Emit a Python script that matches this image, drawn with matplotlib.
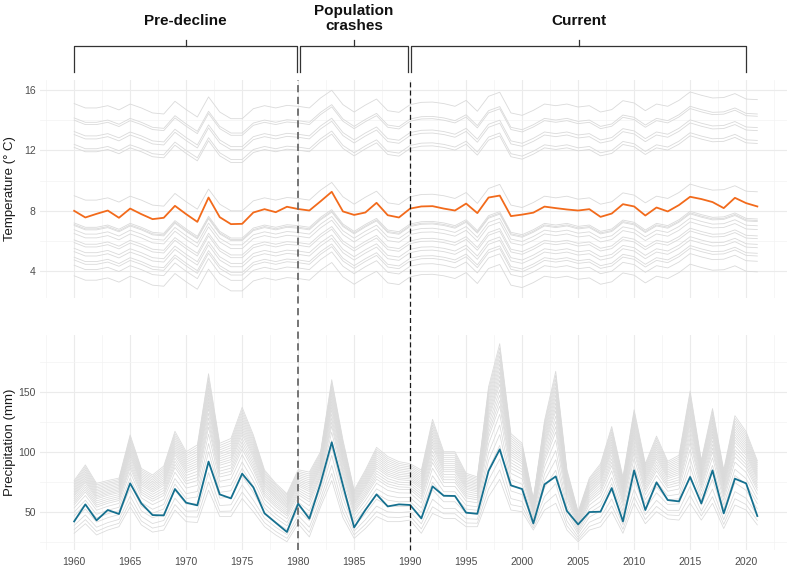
import numpy as np
import matplotlib.pyplot as plt
from matplotlib.lines import Line2D
from matplotlib import transforms

plt.rcParams['font.family'] = ['Liberation Sans', 'DejaVu Sans']

# ---- data ----
YEARS = list(range(1960, 2022))

# highlighted site, mean temperature (deg C)
TEMP_HIGHLIGHT = [
    8.00, 7.56, 7.80, 8.02, 7.54, 8.15, 7.78, 7.45, 7.54, 8.33,
    7.78, 7.27, 8.88, 7.58, 7.12, 7.14, 7.89, 8.11, 7.91, 8.27,
    8.12, 8.02, 8.63, 9.26, 7.96, 7.73, 7.89, 8.53, 7.71, 7.56,
    8.15, 8.29, 8.31, 8.15, 8.02, 8.48, 7.85, 8.88, 9.01, 7.65,
    7.75, 7.88, 8.28, 8.18, 8.09, 8.02, 8.11, 7.60, 7.82, 8.44,
    8.29, 7.69, 8.22, 7.96, 8.38, 8.93, 8.78, 8.58, 8.18, 8.86,
    8.51, 8.29,
]

# warmest grey site, used as the shared year-to-year shape of the grey sites
TEMP_GREY_TOP = [
    15.10, 14.81, 14.81, 14.96, 14.68, 15.07, 14.81, 14.48, 14.41, 15.25,
    14.70, 14.21, 15.54, 14.54, 14.10, 14.10, 14.76, 14.96, 14.81, 14.98,
    14.92, 14.81, 15.47, 15.98, 15.03, 14.54, 15.00, 15.40, 14.63, 14.52,
    15.03, 15.18, 15.20, 15.10, 14.92, 15.31, 14.59, 15.58, 15.85, 14.48,
    14.32, 14.65, 15.07, 14.96, 15.07, 14.87, 14.96, 14.54, 14.70, 15.29,
    15.14, 14.63, 15.07, 14.92, 15.31, 15.87, 15.65, 15.47, 15.50, 15.76,
    15.40, 15.36,
]
# 1960 level of each grey site
TEMP_GREY_START = [15.1, 14.15, 14.0, 13.25, 13.05, 12.4, 12.2, 9.0, 7.2, 7.1,
                   7.03, 6.75, 6.5, 6.08, 5.9, 5.52, 5.3, 4.93, 4.75, 4.4, 3.7]

# highlighted site, precipitation (mm)
PRECIP_HIGHLIGHT = [
    41.9, 56.1, 42.8, 51.4, 48.1, 73.6, 56.9, 47.2, 46.9, 68.9,
    57.5, 55.3, 91.7, 64.4, 61.1, 81.7, 70.3, 48.6, 40.8, 33.1,
    56.7, 44.2, 73.6, 107.8, 72.0, 36.9, 51.4, 64.4, 54.4, 56.1,
    55.6, 44.4, 71.1, 63.3, 63.1, 49.2, 48.3, 83.9, 101.9, 71.9,
    68.9, 40.3, 72.8, 79.4, 50.6, 39.4, 49.7, 50.0, 69.7, 41.9,
    84.4, 51.4, 74.4, 59.7, 58.6, 78.9, 56.9, 84.4, 48.6, 77.5,
    73.6, 46.4,
]
# upper and lower edges of the grey precipitation bundle
PRECIP_GREY_TOP = [
    76, 89, 73.6, 76, 78, 114, 86, 80.6, 88, 117,
    100, 105.6, 165, 107, 111, 137, 114, 84.7, 73.6, 65,
    85, 83, 100, 160, 110, 68, 84.7, 103.6, 96, 91.7,
    90, 84.7, 127, 100, 100, 82, 79, 154, 190, 115,
    107, 61, 126, 167, 85, 50, 78, 90, 121, 79,
    135, 90, 113, 92, 97, 150.6, 93, 136, 85, 130,
    116.7, 92.5,
]
PRECIP_GREY_BOTTOM = [
    32, 40, 30.6, 34.7, 37.5, 54, 39, 33, 34.7, 51.4,
    41.7, 41, 68, 46, 46, 61, 50, 37.5, 30.6, 25,
    40, 29, 54, 76, 45, 27.8, 36, 46, 41.7, 41.7,
    43, 32, 48.6, 44.4, 44.4, 37.5, 37.5, 62.5, 77, 51.4,
    50, 34.7, 51.4, 57, 34.7, 25, 34.7, 37.5, 50, 32,
    57, 40, 50, 44, 43, 57, 43, 57, 36, 55.6,
    51.4, 39,
]
# where each grey site sits inside the bundle (1 = top edge, 0 = bottom edge)
PRECIP_GREY_POS = [1.0, 0.97, 0.94, 0.91, 0.88, 0.85, 0.82, 0.79, 0.76, 0.73, 0.70,
                   0.66, 0.62, 0.58, 0.54, 0.48, 0.40, 0.33, 0.25, 0.15, 0.07, 0.0]

PERIODS = [(1960, 1979.9, 'Pre-decline'),
           (1980.2, 1989.8, 'Population\ncrashes'),
           (1990.1, 2020, 'Current')]
BREAKS = [1980, 1990]

# ---- figure ----
W, H = 787, 572
fig = plt.figure(figsize=(W / 100, H / 100), dpi=100)


def px_axes(x0, y0, x1, y1):
    return fig.add_axes([x0 / W, 1 - y1 / H, (x1 - x0) / W, (y1 - y0) / H])


XLIM = (1956.95, 2023.65)
GREY = '#dadada'
ORANGE = '#f26a1b'
BLUE = '#15708f'

ax_t = px_axes(40, 80, 787, 298)
ax_p = px_axes(40, 335, 787, 550)

for ax in (ax_t, ax_p):
    ax.set_xlim(*XLIM)
    for s in ax.spines.values():
        s.set_visible(False)
    ax.set_xticks(range(1960, 2021, 5))
    ax.set_xticks(np.arange(1957.5, 2023, 5), minor=True)
    ax.tick_params(which='both', length=0, labelsize=7.5, colors='#4d4d4d', pad=3)
    ax.grid(which='major', color='#ebebeb', lw=0.8)
    ax.grid(which='minor', color='#f3f3f3', lw=0.5)
    ax.set_axisbelow(True)

# temperature
top = np.array(TEMP_GREY_TOP)
for start in TEMP_GREY_START:
    ax_t.plot(YEARS, top - top[0] + start, color=GREY, lw=0.6)
ax_t.plot(YEARS, TEMP_HIGHLIGHT, color=ORANGE, lw=1.3)
ax_t.set_ylim(2.23, 16.66)
ax_t.set_yticks([4, 8, 12, 16])
ax_t.set_yticks([6, 10, 14], minor=True)
ax_t.tick_params(axis='x', labelbottom=False)

# precipitation
ptop = np.array(PRECIP_GREY_TOP)
pbot = np.array(PRECIP_GREY_BOTTOM)
for w in PRECIP_GREY_POS:
    ax_p.plot(YEARS, pbot + w * (ptop - pbot), color=GREY, lw=0.55)
ax_p.plot(YEARS, PRECIP_HIGHLIGHT, color=BLUE, lw=1.3)
ax_p.set_ylim(18.1, 197.2)
ax_p.set_yticks([50, 100, 150])
ax_p.set_yticks([25, 75, 125, 175], minor=True)
ax_p.tick_params(axis='x', pad=5)

fig.text(10 / W, 1 - 189 / H, 'Temperature (° C)', rotation=90,
         ha='center', va='center', fontsize=9.5, color='#1a1a1a')
fig.text(10 / W, 1 - 442 / H, 'Precipitation (mm)', rotation=90,
         ha='center', va='center', fontsize=9.5, color='#1a1a1a')

# dashed period breaks running through both panels
trans = transforms.blended_transform_factory(ax_t.transData, fig.transFigure)
for yr, col, lw in zip(BREAKS, ['#6a6a6a', '#1a1a1a'], [1.3, 0.9]):
    fig.add_artist(Line2D([yr, yr], [1 - 550 / H, 1 - 80 / H], transform=trans,
                          color=col, lw=lw, dashes=(4, 2.5)))

# period brackets
ax_h = px_axes(40, 0, 787, 80)
ax_h.set_xlim(*XLIM)
ax_h.set_ylim(80, 0)
ax_h.axis('off')
for x0, x1, label in PERIODS:
    mid = (x0 + x1) / 2
    ax_h.plot([x0, x0, x1, x1], [72, 46, 46, 72], color='#333333', lw=0.9)
    ax_h.plot([mid, mid], [46, 40], color='#333333', lw=0.9)
    ax_h.text(mid, 21 if '\n' not in label else 18.5, label, ha='center', va='center',
              fontsize=11, fontweight='bold', color='#111111', linespacing=1.15)

fig.savefig('out.png', dpi=100)
